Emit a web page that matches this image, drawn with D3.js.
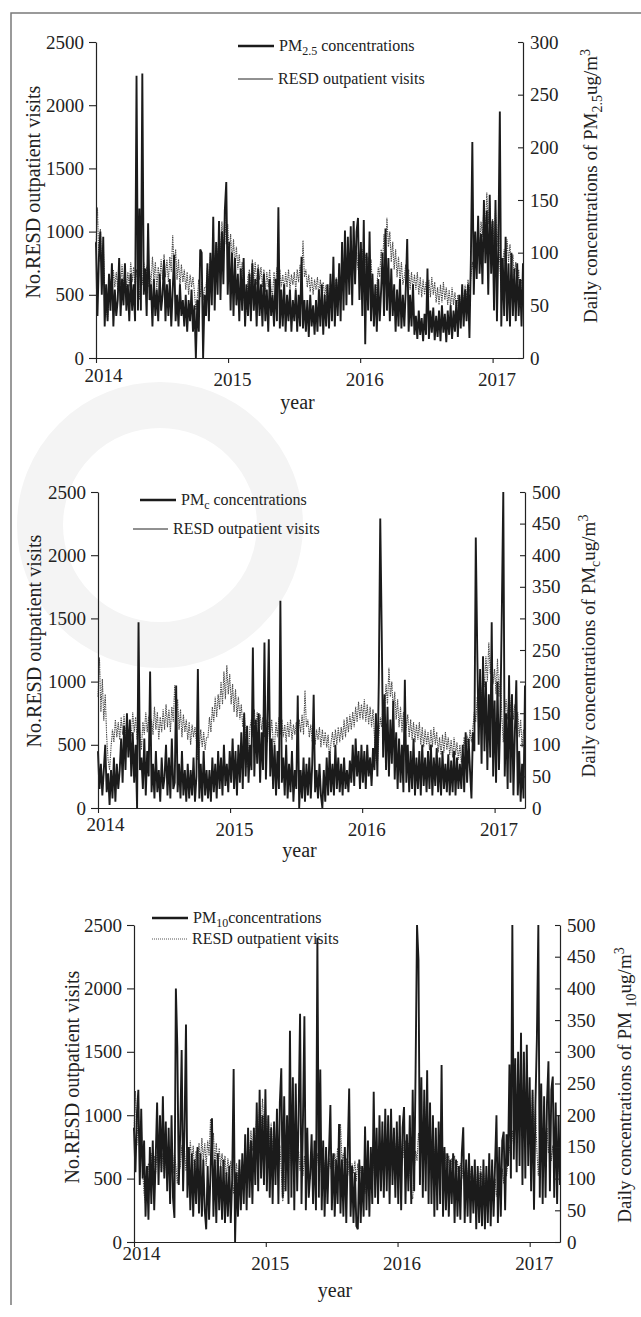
<!DOCTYPE html>
<html>
<head>
<meta charset="utf-8">
<script src="https://cdn.jsdelivr.net/npm/d3@7"></script>
<style>
  body { margin: 0; background: #fff; }
  svg { display: block; font-family: "Liberation Serif", "Times New Roman", serif; }
</style>
</head>
<body>
<div id="plot"></div>
<script>
// one value every 4 days, starting 2014-01-01
const startDate = new Date(2014, 0, 1);
const endDate = new Date(2017, 2, 26);
const stepDays = 4;

const yearTicks = [2014, 2015, 2016, 2017];
const visitTicks = [0, 500, 1000, 1500, 2000, 2500];
const pm25Ticks = [0, 50, 100, 150, 200, 250, 300];
const pm500Ticks = [0, 50, 100, 150, 200, 250, 300, 350, 400, 450, 500];

// RESD outpatient visits (same series in all three panels)
const visits = [
  880,1190,760,1020,690,900,560,380,  300,480,620,520,700,560,680,
  540,720,580,740,560,700,520,680,  560,760,600,720,540,700,600,
  460,680,580,760,600,730,560,700,  580,800,620,760,540,720,600,780,
  620,820,640,780,600,800,680,  970,700,860,620,780,560,740,600,
  700,540,680,500,660,560,640,520,  380,480,620,480,600,460,560,
  560,720,600,800,680,880,720,900,  780,1000,820,1080,860,1130,900,1060,
  820,980,760,940,720,880,700,  820,640,760,560,320,420,640,
  700,560,780,600,760,580,740,620,  720,560,700,520,680,560,700,540,
  500,680,560,720,580,700,560,  660,520,680,560,700,540,660,580,
  680,540,700,600,740,580,930,640,  700,560,660,520,640,500,620,
  540,640,480,620,500,600,480,580,  380,520,600,480,620,500,640,520,
  640,540,700,560,720,600,740,  620,760,640,800,680,840,700,820,
  700,860,680,820,660,800,640,780,  560,380,340,560,720,640,860,
  760,980,820,1110,880,1000,760,920,  700,860,640,800,600,760,580,
  640,740,560,700,540,680,520,660,  540,680,500,640,480,620,500,
  600,460,620,480,640,500,600,440,  560,420,580,440,600,460,560,420,
  540,400,560,420,520,380,500,  360,440,560,420,580,460,620,520,
  640,760,680,880,760,1000,860,1080,  960,1200,1000,1310,1060,1240,980,
  1100,900,1180,880,1060,720,520,760,  860,700,940,760,900,700,820,
  640,760,560,700,480,620,560
];

// daily concentrations of PM2.5 (ug/m3)
const pm25 = [
  110,40,95,120,60,115,30,70,  35,80,45,90,30,65,40,
  55,95,40,75,50,90,45,70,  35,80,45,70,35,268,45,
  142,45,270,60,85,40,128,55,  70,30,75,40,65,35,80,45,
  60,93,35,70,40,75,30,  65,98,35,60,30,70,40,55,
  30,60,25,55,35,65,25,50,  0,55,25,103,100,0,60,
  40,90,35,100,50,134,45,110,  60,130,55,120,70,140,167,60,
  110,45,100,40,95,50,80,  35,85,45,95,30,70,40,
  80,35,90,45,75,30,85,40,  70,30,80,35,65,25,75,40,
  60,30,75,35,143,28,65,  30,70,25,60,35,65,25,55,
  35,65,25,60,30,96,28,55,  25,55,20,60,30,50,22,
  55,25,65,30,70,22,60,30,  70,28,80,35,96,30,75,40,
  90,35,110,45,121,50,115,  60,125,50,130,70,120,133,55,
  110,40,131,13,100,45,120,35,  80,30,70,25,75,35,65,
  100,40,123,45,95,35,85,40,  70,25,65,30,75,28,60,
  30,65,113,25,60,30,70,22,  40,18,45,22,38,16,42,
  22,85,18,45,24,48,17,40,  20,45,16,50,24,42,15,45,
  22,50,18,45,25,55,20,  60,28,70,30,65,35,70,19,
  95,205,60,120,75,135,80,118,  70,150,90,140,60,155,80,
  130,45,150,35,110,234,30,95,  40,115,35,90,30,100,40,
  85,35,90,40,75,30,90
];

// daily concentrations of PMc (ug/m3)
const pmc = [
  90,30,70,20,60,100,25,55,  5,60,15,80,10,70,30,
  60,110,40,130,60,150,80,140,  50,120,40,100,0,294,60,
  80,30,110,20,90,50,216,25,  70,15,90,25,60,10,80,30,
  50,100,20,80,15,110,30,  40,194,25,70,15,90,20,60,
  10,70,15,60,20,80,10,50,  220,15,70,10,90,20,60,
  15,60,10,80,25,70,15,90,  30,80,20,100,35,70,25,90,
  40,110,30,90,20,100,40,  120,30,150,50,130,40,100,
  60,254,50,140,70,150,40,120,  60,262,45,130,267,50,110,30,
  100,20,90,30,328,40,80,  20,100,15,70,25,90,10,60,
  30,178,0,60,15,80,10,70,  20,80,15,70,179,25,60,
  15,70,20,0,60,10,80,20,  90,25,70,20,100,30,80,25,
  70,20,80,30,60,25,75,  40,100,35,110,50,90,30,100,
  40,90,30,100,50,80,35,95,  60,150,50,200,458,280,80,
  180,60,160,50,140,70,170,45,  120,30,110,40,100,25,203,
  40,100,25,90,30,110,20,80,  30,90,20,100,35,80,25,
  90,30,100,20,80,35,95,25,  80,20,90,30,70,25,85,20,
  75,25,90,20,80,30,70,  30,100,25,120,40,110,60,15,
  120,90,428,250,100,220,70,240,  90,200,60,180,80,294,50,
  170,40,200,60,150,312,500,50,  150,30,210,40,180,20,120,
  202,20,90,10,70,15,194
];

// daily concentrations of PM10 (ug/m3)
const pm10 = [
  180,110,200,240,90,210,100,160,  40,120,35,150,60,160,50,
  130,220,90,200,110,230,100,190,  80,180,60,200,70,38,400,
  308,90,170,303,80,180,343,70,  150,50,140,40,130,60,150,45,
  140,40,130,50,20,120,35,  110,195,40,130,30,140,50,120,
  35,130,30,110,40,120,30,100,  273,0,110,40,130,50,140,
  60,170,50,180,70,160,60,180,  90,220,80,240,100,200,90,241,
  80,200,70,180,60,190,90,  210,60,220,274,70,230,80,
  200,60,333,70,260,50,250,80,  200,360,60,190,356,50,180,70,
  106,170,60,160,50,480,70,  272,50,160,40,150,60,140,216,
  50,140,40,130,60,186,45,130,  40,150,30,140,242,40,120,
  30,110,25,20,130,30,120,40,  182,50,160,40,150,60,237,70,
  180,60,200,80,190,70,210,  80,200,60,210,90,180,70,190,
  60,200,50,180,213,60,170,80,  200,60,240,80,270,500,445,
  90,260,70,240,80,271,60,220,  60,200,40,180,50,190,60,
  279,40,150,50,140,40,130,60,  140,30,130,40,120,35,140,
  181,30,130,40,140,30,120,45,  130,20,120,30,110,25,130,20,
  120,30,140,25,130,40,120,  200,30,150,40,160,174,50,170,
  120,280,100,500,130,290,110,300,  120,330,90,300,100,311,120,
  260,80,240,51,220,321,500,70,  250,60,230,70,220,285,80,
  240,261,70,220,60,200,90
];

const width = 641, height = 1317;
const svg = d3.select("#plot").append("svg")
  .attr("width", width).attr("height", height)
  .attr("viewBox", `0 0 ${width} ${height}`);

// faint watermark in the background
const wm = svg.append("g").attr("class", "watermark");
wm.append("circle").attr("cx", 160).attr("cy", 525).attr("r", 120)
  .attr("fill", "none").attr("stroke", "#f4f4f4").attr("stroke-width", 46);

// outer frame (top and left edge)
svg.append("path")
  .attr("d", "M11,1305V13H641")
  .attr("fill", "none").attr("stroke", "#7a7a7a").attr("stroke-width", 1.5);

const panels = [
  { series: pm25, ticks: pm25Ticks, max: 300, sub: "2.5", sep: "",
    left: 96, right: 523, top: 42, bottom: 358,
    legendX: 238, legendY: [46, 79], legendDotted: false, legendSpace: true,
    leftTitle: [33, 192], rightTitle: [590, 186], yearY: 402, firstLabelUp: 4 },
  { series: pmc, ticks: pm500Ticks, max: 500, sub: "c", sep: "",
    left: 98, right: 525, top: 492, bottom: 808,
    legendX: 140, legendX2: 133, legendY: [500, 529], legendDotted: false, legendSpace: true,
    leftTitle: [34, 641], rightTitle: [588, 646], yearY: 850, firstLabelUp: 5 },
  { series: pm10, ticks: pm500Ticks, max: 500, sub: "10", sep: " ",
    left: 134, right: 560, top: 925, bottom: 1242,
    legendX: 152, legendY: [918, 939], legendDotted: true, legendSpace: false,
    leftTitle: [72, 1077], rightTitle: [624, 1085], yearY: 1290, firstLabelUp: 10 }
];

const dateAt = i => d3.timeDay.offset(startDate, i * stepDays);

panels.forEach(p => {
  const g = svg.append("g");
  const x = d3.scaleTime().domain([startDate, endDate]).range([p.left, p.right]);
  const yL = d3.scaleLinear().domain([0, 2500]).range([p.bottom, p.top]);
  const yR = d3.scaleLinear().domain([0, p.max]).range([p.bottom, p.top]);

  // visits (grey, dotted look)
  g.append("path")
    .datum(visits)
    .attr("fill", "none")
    .attr("stroke", "#4a4a4a")
    .attr("stroke-width", 1.1)
    .attr("stroke-dasharray", "1.4,0.9")
    .attr("d", d3.line().x((d, i) => x(dateAt(i))).y(d => yL(d)));

  // PM concentrations (black)
  g.append("path")
    .datum(p.series)
    .attr("fill", "none")
    .attr("stroke", "#1b1b1b")
    .attr("stroke-width", 1.9)
    .attr("stroke-linejoin", "miter")
    .attr("d", d3.line().x((d, i) => x(dateAt(i))).y(d => yR(d)));

  // axes
  const axL = g.append("g").attr("transform", `translate(${p.left},0)`)
    .call(d3.axisLeft(yL).tickValues(visitTicks).tickFormat(d3.format("d"))
      .tickSize(7).tickSizeOuter(0).tickPadding(5));
  const axR = g.append("g").attr("transform", `translate(${p.right},0)`)
    .call(d3.axisRight(yR).tickValues(p.ticks).tickFormat(d3.format("d"))
      .tickSize(-5).tickSizeOuter(0).tickPadding(7));
  const axB = g.append("g").attr("transform", `translate(0,${p.bottom})`)
    .call(d3.axisBottom(x).tickValues(yearTicks.map(y => new Date(y, 0, 1)))
      .tickFormat(d3.timeFormat("%Y")).tickSize(5).tickSizeOuter(0).tickPadding(10));

  [axL, axR, axB].forEach(a => {
    a.selectAll("path.domain").attr("stroke", "#222").attr("stroke-width", 1.2);
    a.selectAll(".tick line").attr("stroke", "#222").attr("stroke-width", 1.1);
    a.selectAll("text").attr("font-family", "Liberation Serif").attr("font-size", 19).attr("fill", "#222");
  });
  axB.selectAll("text").attr("dx", 4)
    .filter((d, i) => i === 0).attr("dx", 7).attr("y", 15 - p.firstLabelUp);

  // axis titles
  g.append("text")
    .attr("transform", `translate(${p.leftTitle[0]},${p.leftTitle[1]}) rotate(-90)`)
    .attr("text-anchor", "middle").attr("dy", "0.35em")
    .attr("font-size", 20).attr("fill", "#222")
    .text("No.RESD outpatient visits");

  const rt = g.append("text")
    .attr("transform", `translate(${p.rightTitle[0]},${p.rightTitle[1]}) rotate(-90)`)
    .attr("text-anchor", "middle").attr("dy", "0.35em")
    .attr("font-size", 19).attr("fill", "#222");
  rt.append("tspan").text("Daily concentrations of PM" + p.sep);
  rt.append("tspan").attr("font-size", 14).attr("dy", 5).text(p.sub);
  rt.append("tspan").attr("dy", -5).text("ug/m");
  rt.append("tspan").attr("font-size", 14).attr("dy", -7).text("3");

  g.append("text")
    .attr("x", (p.left + p.right) / 2 - 12).attr("y", p.yearY)
    .attr("text-anchor", "middle").attr("dy", "0.35em")
    .attr("font-size", 20).attr("fill", "#222")
    .text("year");

  // legend
  const lx = p.legendX, lx2 = p.legendX2 || p.legendX;
  g.append("line").attr("x1", lx).attr("x2", lx + 36)
    .attr("y1", p.legendY[0]).attr("y2", p.legendY[0])
    .attr("stroke", "#1b1b1b").attr("stroke-width", 2.4);
  const t1 = g.append("text").attr("x", lx + 41).attr("y", p.legendY[0] + 5)
    .attr("font-size", 16).attr("fill", "#222");
  t1.append("tspan").text("PM");
  t1.append("tspan").attr("font-size", 12).attr("dy", 4).text(p.sub);
  t1.append("tspan").attr("dy", -4).text(p.legendSpace ? " concentrations" : "concentrations");

  g.append("line").attr("x1", lx2).attr("x2", lx2 + 35)
    .attr("y1", p.legendY[1]).attr("y2", p.legendY[1])
    .attr("stroke", p.legendDotted ? "#555" : "#222")
    .attr("stroke-width", 1)
    .attr("stroke-dasharray", p.legendDotted ? "1,1" : null);
  g.append("text").attr("x", lx2 + 40).attr("y", p.legendY[1] + 5)
    .attr("font-size", 16).attr("fill", "#222")
    .text("RESD outpatient visits");
});
</script>
</body>
</html>
